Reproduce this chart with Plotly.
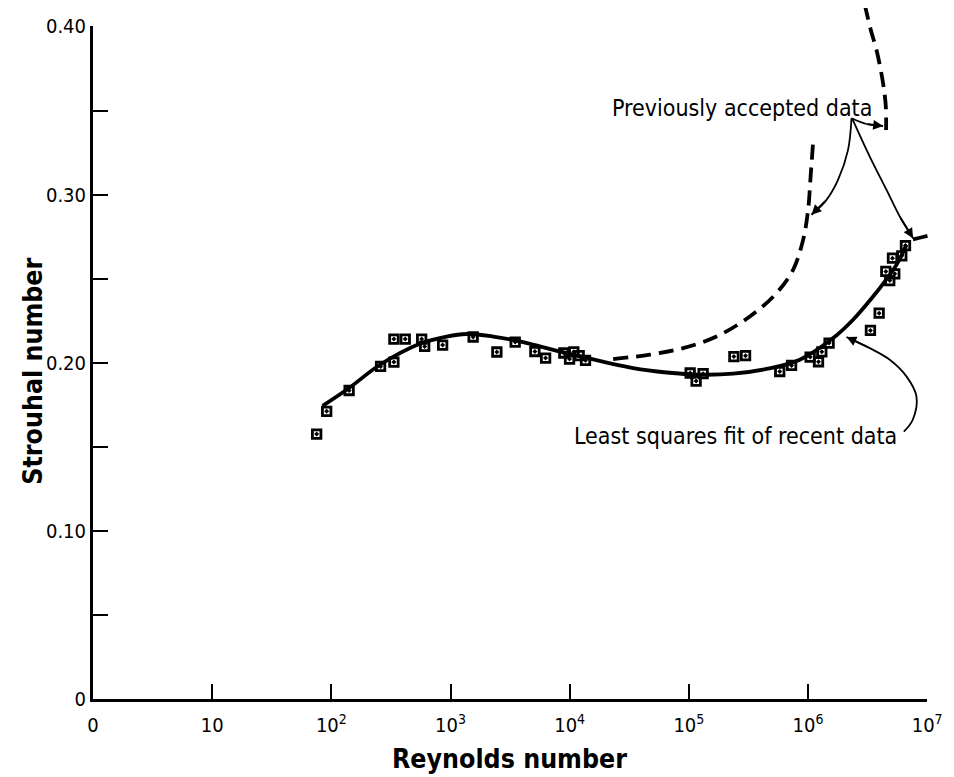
import math
import plotly.graph_objects as go

# ---------------- data ----------------
# recent measurements (Reynolds number, Strouhal number)
re_data = [75.3, 91.4, 141, 259, 335, 335, 417, 573, 607, 859,
           1549, 2449, 3491, 5105, 6281, 8933, 9977, 10840, 12020, 13580,
           102600, 131800, 115100, 238800, 299200, 579400, 727800,
           1.042e6, 1.225e6, 1.306e6, 1.503e6, 3.342e6, 3.954e6, 4.853e6,
           4.498e6, 5.346e6, 5.117e6, 6.124e6, 6.577e6]
st_data = [0.1576, 0.1711, 0.1835, 0.1978, 0.2004, 0.2141, 0.2141, 0.2141, 0.2097, 0.2105,
           0.2153, 0.2064, 0.2123, 0.2067, 0.2028, 0.2058, 0.2022, 0.2065, 0.2042, 0.2014,
           0.1939, 0.1935, 0.1891, 0.2037, 0.2042, 0.1948, 0.1984,
           0.2034, 0.2006, 0.2065, 0.2117, 0.2192, 0.2295, 0.2489,
           0.2543, 0.2529, 0.2622, 0.2636, 0.2697]

# least squares fit of recent data (traced)
re_fit = [84.5, 141, 256, 553, 927, 1365, 2280, 3819, 6397, 10690, 34120,
          65010, 123600, 235500, 448700, 853100, 1.626e6, 2.388e6, 3.516e6,
          4.406e6, 5.521e6, 6.699e6]
st_fit = [0.1744, 0.1850, 0.1988, 0.2113, 0.2156, 0.2171, 0.2156, 0.2127, 0.2087, 0.2048,
          0.1968, 0.1942, 0.1929, 0.1935, 0.1963, 0.2018, 0.2147, 0.2256, 0.2394,
          0.2483, 0.2582, 0.2701]

# previously accepted data (dashed curves)
re_prev_a = [23170, 47100, 89540, 170600, 325100, 544500, 749900, 909800, 1.002e6, 1.054e6, 1.104e6]
st_prev_a = [0.2022, 0.2048, 0.2087, 0.2156, 0.2275, 0.2414, 0.2553, 0.2731, 0.2909, 0.3117, 0.3313]
re_prev_b = [3.0e6, 3.365e6, 3.758e6, 4.266e6, 4.498e6, 4.52e6]
st_prev_b = [0.4128, 0.3979, 0.3860, 0.3662, 0.3523, 0.3384]
re_prev_c = [7.6e6, 9.2e6, 1.114e7]
st_prev_c = [0.2734, 0.2748, 0.2763]

# annotation leader curves (Re, St); last point is the arrow tip
arrow_prev_a = ([2.317e6, 2.168e6, 1.786e6, 1.429e6, 1.069e6], [0.3454, 0.3266, 0.3088, 0.2969, 0.2880])
arrow_prev_b = ([2.317e6, 3.097e6, 4.266e6], [0.3454, 0.3420, 0.3408])
arrow_prev_c = ([2.355e6, 3.296e6, 4.560e6, 5.888e6, 7.621e6], [0.3450, 0.3226, 0.3028, 0.2870, 0.2741])
arrow_fit = ([6.368e6, 7.568e6, 8.128e6, 6.699e6, 4.853e6, 3.296e6, 2.104e6],
             [0.1590, 0.1661, 0.1800, 0.1919, 0.2018, 0.2087, 0.2153])

label_prev = ("Previously accepted data", 2.786e5, 0.3516)
label_fit = ("Least squares fit of recent data", 2.478e5, 0.1566)

x_title = "Reynolds number"
y_title = "Strouhal number"
x_tickvals = [1, 10, 1e2, 1e3, 1e4, 1e5, 1e6, 1e7]
x_ticktext = ["0", "10", "10<sup>2</sup>", "10<sup>3</sup>", "10<sup>4</sup>",
              "10<sup>5</sup>", "10<sup>6</sup>", "10<sup>7</sup>"]
y_tickvals = [0, 0.10, 0.20, 0.30, 0.40]
y_ticktext = ["0", "0.10", "0.20", "0.30", "0.40"]
y_minor = [0.05, 0.15, 0.25, 0.35]

# ---------------- layout geometry ----------------
PAGE_OFF = 8                       # default body margin of the html page
W, H = 954 - PAGE_OFF, 777 - PAGE_OFF
px_per_decade = 119.2
px_per_unit = 1682.5
origin_px = (93 - PAGE_OFF, 699.5 - PAGE_OFF)   # pixel of (Re=1, St=0) within figure
x_dec_max, x_dec_ext = 7.0, 7.2
ml = origin_px[0]
plot_w = x_dec_ext * px_per_decade
mr = W - ml - plot_w
mt = 0
mb = H - origin_px[1]
plot_h = H - mt - mb
y_ext = plot_h / px_per_unit
y_dom = 0.40 / y_ext
x_dom = x_dec_max / x_dec_ext

def paper_x(px):
    return (px - PAGE_OFF - ml) / plot_w

def paper_y(py):
    return (origin_px[1] - (py - PAGE_OFF)) / plot_h

FONT = "DejaVu Sans Condensed"
BLACK = "#000000"
CLEAR = "rgba(0,0,0,0)"

fig = go.Figure()

def curve(xs, ys, dash=None, width=3.5, axes=("x", "y")):
    fig.add_trace(go.Scatter(
        x=xs, y=ys, mode="lines", xaxis=axes[0], yaxis=axes[1],
        line=dict(color=BLACK, width=width, dash=dash, shape="spline", smoothing=1.0),
        hoverinfo="skip", showlegend=False))

# fit curve
curve(re_fit, st_fit, width=3.8)
# previously accepted data
dash = "15px,8px"
curve(re_prev_a, st_prev_a, dash=dash, width=3.8)
curve(re_prev_b, st_prev_b, dash=dash, width=3.8, axes=("x2", "y2"))
curve(re_prev_c, st_prev_c, dash=dash, width=3.8, axes=("x2", "y2"))

# data points
fig.add_trace(go.Scatter(
    x=re_data, y=st_data, mode="markers",
    marker=dict(symbol="square-open-dot", size=8.5, color=BLACK, line=dict(color=BLACK, width=2.8)),
    hoverinfo="skip", showlegend=False))

# leader curves with arrowheads
for xs, ys in [arrow_prev_a, arrow_prev_b, arrow_prev_c, arrow_fit]:
    curve(xs, ys, width=1.8, axes=("x2", "y2"))
    fig.add_annotation(
        x=math.log10(xs[-1]), y=ys[-1], xref="x2", yref="y2",
        ax=math.log10(xs[-2]), ay=ys[-2], axref="x2", ayref="y2",
        text="", showarrow=True, arrowhead=2, arrowsize=1.1, arrowwidth=1.8,
        arrowcolor=BLACK, standoff=0, startstandoff=0)

for txt, rx, sy in [label_prev, label_fit]:
    fig.add_annotation(
        x=math.log10(rx), y=sy, xref="x2", yref="y2", text=txt, showarrow=False,
        font=dict(family=FONT, size=23, color=BLACK), xanchor="center", yanchor="middle")

# axis titles
fig.add_annotation(x=paper_x(510), y=paper_y(759), xref="paper", yref="paper",
                   text="<b>%s</b>" % x_title, showarrow=False,
                   font=dict(family=FONT, size=26.5, color=BLACK),
                   xanchor="center", yanchor="middle")
fig.add_annotation(x=paper_x(33), y=paper_y(372), xref="paper", yref="paper",
                   text="<b>%s</b>" % y_title, showarrow=False, textangle=-90,
                   font=dict(family=FONT, size=26.5, color=BLACK),
                   xanchor="center", yanchor="middle")

fig.update_layout(
    width=W, height=H,
    margin=dict(l=ml, r=mr, t=mt, b=mb, pad=0, autoexpand=False),
    paper_bgcolor="white", plot_bgcolor=CLEAR,
    showlegend=False,
    font=dict(family=FONT, color=BLACK),
    xaxis=dict(
        type="log", range=[0, x_dec_max], domain=[0, x_dom], anchor="y",
        showline=True, linecolor=BLACK, linewidth=3, automargin=False,
        showgrid=False, zeroline=False,
        ticks="inside", ticklen=15, tickwidth=2.2, tickcolor=BLACK,
        tickvals=x_tickvals, ticktext=x_ticktext,
        tickfont=dict(family=FONT, size=20, color=BLACK),
        ticklabelstandoff=6,
    ),
    yaxis=dict(
        range=[0, 0.40], domain=[0, y_dom], anchor="x",
        showline=True, linecolor=BLACK, linewidth=3, automargin=False,
        showgrid=False, zeroline=False,
        ticks="inside", ticklen=15, tickwidth=2.2, tickcolor=BLACK,
        tickvals=y_tickvals, ticktext=y_ticktext,
        minor=dict(tickvals=y_minor, ticks="inside", ticklen=15, tickwidth=2.2, tickcolor=BLACK,
                   showgrid=False),
        tickfont=dict(family=FONT, size=20, color=BLACK),
        ticklabelstandoff=0,
    ),
    xaxis2=dict(type="log", range=[0, x_dec_ext], domain=[0, 1], anchor="y2",
                visible=False, showgrid=False, zeroline=False),
    yaxis2=dict(range=[0, y_ext], domain=[0, 1], anchor="x2",
                visible=False, showgrid=False, zeroline=False),
)

fig.write_html("out.html")
